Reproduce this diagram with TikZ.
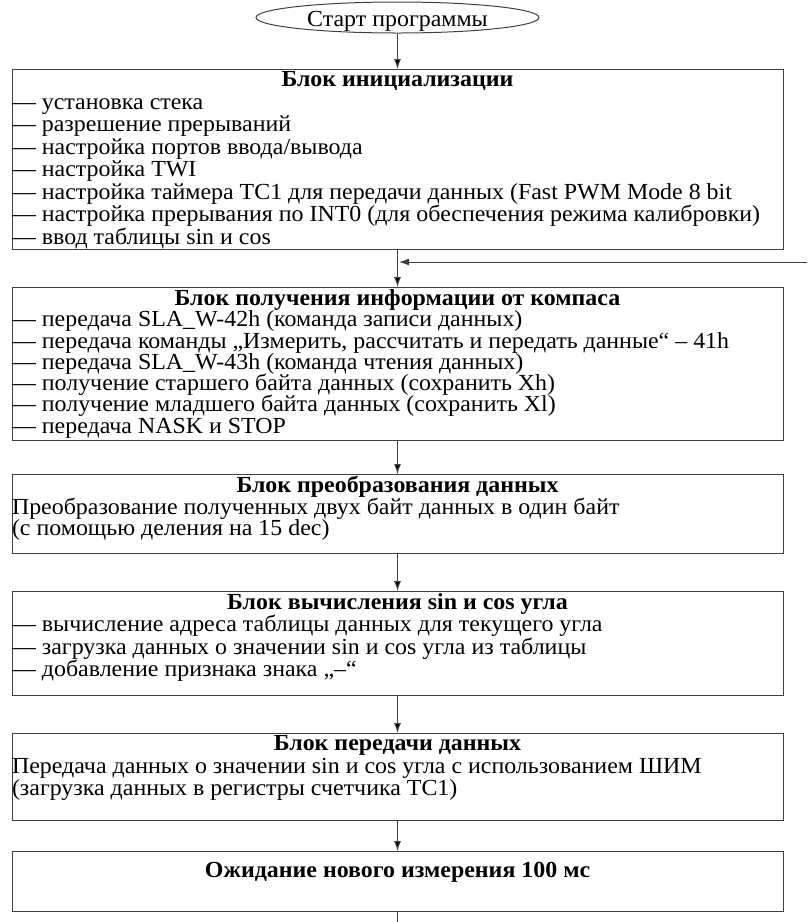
\documentclass[tikz,border=0pt]{standalone}
\usepackage{fontspec}
\setmainfont[FakeStretch=1.04]{Liberation Serif}
\usetikzlibrary{arrows.meta,positioning,shapes.geometric}

% box of fixed height: centred bold heading, then the body
\newcommand{\blocktext}[4][22.5]{%
  \parbox[c][#2][t]{771pt}{\fontsize{23}{#1}\selectfont\lineskiplimit=-50pt
    \vspace*{2pt}{\centering\bfseries #3\par}\raggedright #4}}

\begin{document}
\begin{tikzpicture}[x=1pt,y=1pt,node distance=37pt,line width=1pt]
  \tikzstyle{every node}=[font=\fontsize{23}{22.5}\selectfont]
  \tikzstyle{block}=[draw=black!75,rectangle,inner sep=0pt,anchor=north]
  \tikzstyle{flow}=[draw=black!75,-{Latex[length=10pt,width=7pt]}]
  \useasboundingbox (0,0) rectangle (807,-922);

  \node[draw=black!75,ellipse,minimum width=283pt,minimum height=31pt,inner sep=0pt] (start) at (397.5,-17.5) {\raisebox{-3.5pt}[\height][\depth]{Старт программы}};
  \node[block] (init) at (397.5,-69) {\blocktext{180pt}{Блок инициализации}{%
    — установка стека\\
    — разрешение прерываний\\
    — настройка портов ввода/вывода\\
    — настройка TWI\\
    — настройка таймера TC1 для передачи данных (Fast PWM Mode 8 bit\\
    — настройка прерывания по INT0 (для обеспечения режима калибровки)\\
    — ввод таблицы sin и cos}};
  \node[block, below=of init] (compass) {\blocktext[21.3]{153pt}{Блок получения информации от компаса}{%
    — передача SLA\_W-42h (команда записи данных)\\
    — передача команды „Измерить, рассчитать и передать данные“ – 41h\\
    — передача SLA\_W-43h (команда чтения данных)\\
    — получение старшего байта данных (сохранить Xh)\\
    — получение младшего байта данных (сохранить Xl)\\
    — передача NASK и STOP}};
  \node[block, below=33pt of compass] (convert) {\blocktext[21.5]{79pt}{Блок преобразования данных}{%
    Преобразование полученных двух байт данных в один байт\\
    (с помощью деления на 15 dec)}};
  \node[block, below=of convert] (trig) {\blocktext{104pt}{Блок вычисления sin и cos угла}{%
    — вычисление адреса таблицы данных для текущего угла\\
    — загрузка данных о значении sin и cos угла из таблицы\\
    — добавление признака знака „–“}};
  \node[block, below=of trig] (output) {\blocktext{87pt}{Блок передачи данных}{%
    Передача данных о значении sin и cos угла с использованием ШИМ\\
    (загрузка данных в регистры счетчика TC1)}};
  \node[block, below=30pt of output] (wait) {\blocktext{60pt}{\vspace*{9pt}Ожидание нового измерения 100 мс}{}};

  \coordinate (loop) at (807,-262);
  \coordinate (tail) at (397.5,-922);

  \path[flow] (start) edge (init)
    (init) edge (compass)
    (compass) edge (convert)
    (convert) edge (trig)
    (trig) edge (output)
    (output) edge (wait);
  \draw[flow,shorten >=1.5pt] (loop) -- (loop -| init.south);
  \draw[draw=black!75] (wait) -- (tail);
\end{tikzpicture}
\end{document}
